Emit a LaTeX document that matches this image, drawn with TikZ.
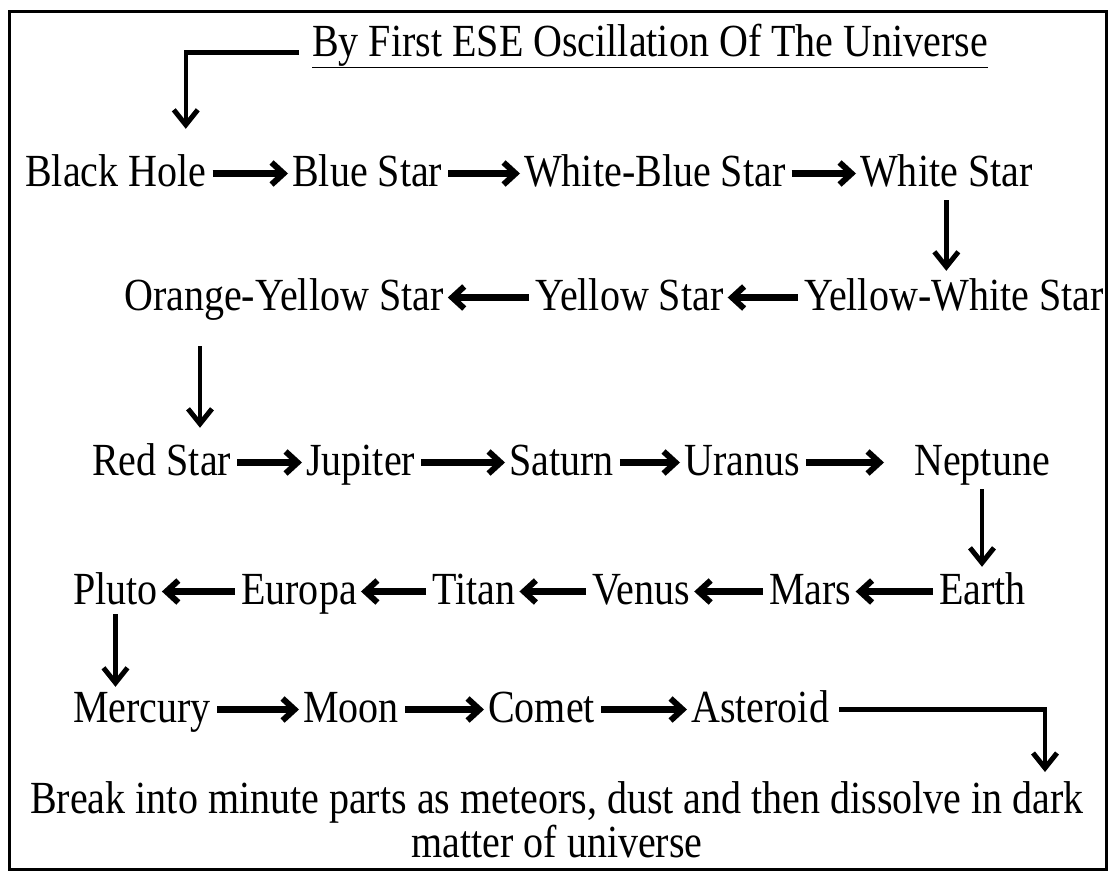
\documentclass[tikz,border=0pt]{standalone}
\usepackage{fontspec}
\setmainfont{Liberation Serif}
\usetikzlibrary{arrows.meta}
\newfontfamily\stagefont[FakeStretch=0.87]{Liberation Serif}
\tikzset{
  stage/.style={font=\stagefont\fontsize{46}{42}\selectfont, anchor=base west,
    inner xsep=0pt, inner ysep=3pt, text height=32pt, text depth=7pt},
  flow/.style={line width=6.5pt, -{Straight Barb[length=12pt,width=22pt,line width=6pt]},
    shorten <=6pt, shorten >=4pt},
  drop/.style={line width=4.5pt, -{Straight Barb[length=15pt,width=24pt,line width=5pt]}}
}
\begin{document}
\begin{tikzpicture}[x=1pt,y=-1pt]
\useasboundingbox (0,0) rectangle (1110,878);
\draw[line width=3pt] (9.5,11) rectangle (1106.5,869);

% heading
\node[stage] (title) at (312,56) {\underline{By First ESE Oscillation Of The Universe}};

% stars
\node[stage] (bh) at (25,186) {Black Hole};
\node[stage] (bs) at (292,186) {Blue Star};
\node[stage] (wb) at (524,186) {White-Blue Star};
\node[stage] (ws) at (860,186) {White Star};

\node[stage] (yw) at (804,310) {Yellow-White Star};
\node[stage] (ys) at (535,310) {Yellow Star};
\node[stage] (oy) at (124,310) {Orange-Yellow Star};

% planets
\node[stage] (rs) at (92,475) {Red Star};
\node[stage] (ju) at (306,475) {Jupiter};
\node[stage] (sa) at (509,475) {Saturn};
\node[stage] (ur) at (684,475) {Uranus};
\node[stage] (ne) at (914,475) {Neptune};

\node[stage] (ea) at (939,604) {Earth};
\node[stage] (ma) at (769,604) {Mars};
\node[stage] (ve) at (592,604) {Venus};
\node[stage] (ti) at (432,604) {Titan};
\node[stage] (eu) at (241,604) {Europa};
\node[stage] (pl) at (73,604) {Pluto};

\node[stage] (me) at (73,722) {Mercury};
\node[stage] (mo) at (303,722) {Moon};
\node[stage] (co) at (488,722) {Comet};
\node[stage] (as) at (691,722) {Asteroid};

\node[stage, anchor=base, align=center, text height=, text depth=] (end) at (557,857)
  {Break into minute parts as meteors, dust and then dissolve in dark\\matter of universe};
\coordinate (endtip) at (1045,772);

% arrows
\draw[drop, shorten <=13pt, shorten >=22pt] ([yshift=-9pt]title.west) -| ([xshift=70pt]bh.north);

\draw[flow] (bh) -- (bs);
\draw[flow] (bs) -- (wb);
\draw[flow] (wb) -- (ws);
\draw[drop, shorten <=4pt, shorten >=4pt] (ws.south) -- (ws.south |- yw.north);
\draw[flow] (yw) -- (ys);
\draw[flow] (ys) -- (oy);
\draw[drop, shorten <=26pt, shorten >=12pt] ([xshift=76pt]oy.south west) -- ([xshift=76pt]oy.south west |- rs.north);

\draw[flow] (rs) -- (ju);
\draw[flow] (ju) -- (sa);
\draw[flow] (sa) -- (ur);
\draw[flow, shorten >=30pt] (ur) -- (ne);
\draw[drop, shorten <=4pt, shorten >=2pt] (ne.south) -- (ne.south |- ea.north);
\draw[flow] (ea) -- (ma);
\draw[flow] (ma) -- (ve);
\draw[flow] (ve) -- (ti);
\draw[flow] (ti) -- (eu);
\draw[flow] (eu) -- (pl);
\draw[drop] (pl.south) -- (pl.south |- me.north);

\draw[flow] (me) -- (mo);
\draw[flow] (mo) -- (co);
\draw[flow] (co) -- (as);
\draw[drop, shorten <=10pt] (as.east) -| (endtip);
\end{tikzpicture}
\end{document}
